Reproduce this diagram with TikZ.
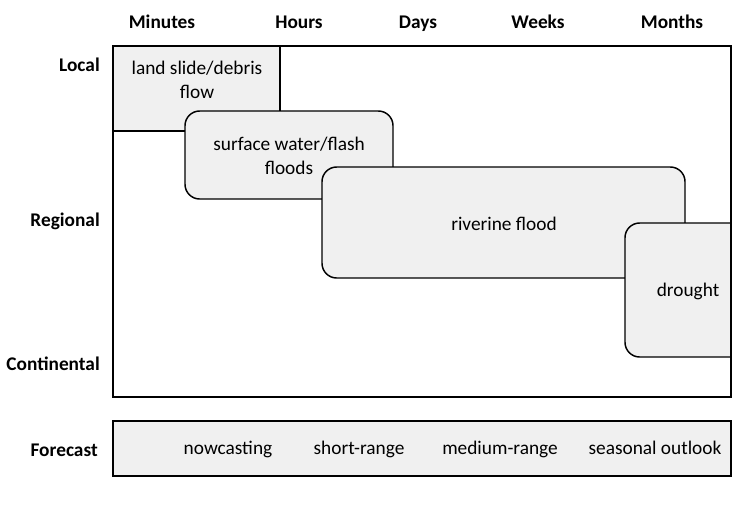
\documentclass[tikz,border=0pt]{standalone}
\usepackage{fontspec}
\setmainfont{Carlito}
\usetikzlibrary{positioning}
\definecolor{hzfill}{HTML}{F0F0F0}

\begin{document}
\begin{tikzpicture}[
    x=0.75pt, y=-0.75pt,
    hazard/.style={draw, line width=1.1pt, fill=hzfill, rounded corners=11pt},
    frame/.style={draw, line width=1.5pt},
    txt/.style={font=\fontsize{14.5}{18.5}\selectfont, align=center, inner sep=0pt},
    axis/.style={font=\fontsize{14.5}{16.5}\selectfont\bfseries, inner sep=0pt,
                 text height=0.72em, text depth=0.22em},
    fc/.style={txt, text height=0.72em, text depth=0.22em},
]
\useasboundingbox (0,0) rectangle (745,507);

% hazard boxes
\draw[hazard, rounded corners=0pt] (113,46) rectangle (280,131);
\draw[hazard] (185,111) rectangle (393,199);
\draw[hazard] (322,167) rectangle (685,278);
\begin{scope}
  \clip (113,46) rectangle (731,397);
  \draw[hazard] (625,223) rectangle (770,357);
\end{scope}
\draw[frame] (113,46) rectangle (731,397);

\node[txt] (landslide) at (197,80) {land slide/debris\\flow};
\node[txt] (surface) at (289,156) {surface water/flash\\floods};
\node[txt] (riverine) at (504,224) {riverine flood};
\node[txt] (drought) at (688,291) {drought};

% time scale
\foreach \t/\x in {Minutes/162, Hours/299, Days/418, Weeks/538, Months/672}
  \node[axis] (t\t) at (\x,25) {\t};

% space scale
\foreach \s/\y in {Local/68, Regional/223, Continental/367}
  \node[axis, anchor=east] (s\s) at (100,\y) {\s};

% forecast bar
\draw[frame, fill=hzfill] (113,421) rectangle (731,476);
\node[axis, anchor=east] (fcst) at (98,453) {Forecast};
\node[fc] (nowcast) at (228,451) {nowcasting};
\node[fc] (short) at (359,451) {short-range};
\node[fc] (medium) at (500,451) {medium-range};
\node[fc] (seasonal) at (655,451) {seasonal outlook};
\end{tikzpicture}
\end{document}
